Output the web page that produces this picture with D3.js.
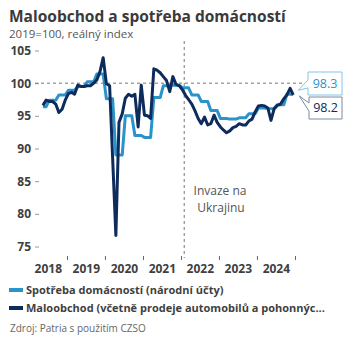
<!DOCTYPE html>
<html>
<head>
<meta charset="utf-8">
<script src="https://cdn.jsdelivr.net/npm/d3@7"></script>
<style>
body { margin: 0; background: #fff; }
text { font-family: "Open Sans", sans-serif; }
</style>
</head>
<body>
<svg id="chart" width="350" height="350"></svg>
<script>
// monthly values, May 2018 .. Dec 2024
var firstMonth = new Date(2018, 4, 15);

// Maloobchod (retail incl. cars and fuel), 2019=100
var retail = [
    96.6, 97.4, 97.2, 97.2, 96.8, 95.5, 96.0, 97.4,
    98.4, 98.6, 98.3, 99.7, 99.5, 99.5, 99.6, 99.6, 100.0, 100.5, 101.8, 103.9,
    99.9, 99.6, 88.5, 76.7, 94.0, 95.3, 97.7, 98.3, 98.0, 98.3, 93.3, 99.7,
    95.1, 95.0, 94.6, 102.2, 102.0, 101.6, 101.0, 100.4, 98.7, 101.0, 99.8, 99.6,
    99.0, 98.1, 97.5, 96.8, 95.8, 94.6, 93.8, 94.8, 93.6, 93.8, 95.1, 94.0,
    93.3, 92.8, 92.4, 92.7, 93.2, 93.4, 93.8, 93.6, 93.6, 94.2, 94.5, 95.6,
    96.5, 96.6, 96.5, 96.2, 94.3, 96.1, 96.6, 96.8, 97.6, 98.2, 99.2, 98.2
];

// Spotřeba domácností (quarterly national accounts, shown per month)
var consumption = [
    96.4, 96.4, 97.4, 97.4, 97.4, 98.2, 98.2, 98.2,
    98.9, 98.9, 98.9, 99.5, 99.5, 99.5, 100.2, 100.2, 100.2, 101.4, 101.4, 101.4,
    97.6, 97.6, 97.6, 89.0, 89.0, 89.0, 95.0, 95.0, 95.0, 92.0, 92.0, 92.0,
    91.7, 91.7, 91.7, 97.8, 97.8, 97.8, 99.6, 99.6, 99.6, 99.7, 99.7, 99.7,
    99.3, 99.3, 99.3, 98.2, 98.2, 98.2, 97.2, 97.2, 97.2, 95.8, 95.8, 95.8,
    94.6, 94.6, 94.6, 94.5, 94.5, 94.5, 94.7, 94.7, 94.7, 95.3, 95.3, 95.3,
    96.2, 96.2, 96.2, 96.1, 96.1, 96.1, 96.7, 96.7, 96.7, 98.3, 98.3, 98.3
];

var yTicks = [75, 80, 85, 90, 95, 100, 105];
var years = [2018, 2019, 2020, 2021, 2022, 2023, 2024];
var invasionDate = new Date(2022, 1, 1);

var colConsumption = "#2a93c9";
var colRetail = "#0d2b5c";

var svg = d3.select("#chart");
svg.append("rect").attr("width", 350).attr("height", 350).attr("fill", "#fff");

// title
svg.append("text")
    .attr("x", 9).attr("y", 22)
    .attr("font-size", 15.5).attr("font-weight", "bold").attr("fill", "#3a3a3a")
    .text("Maloobchod a spotřeba domácností");
svg.append("text")
    .attr("x", 9).attr("y", 38)
    .attr("font-size", 11.5).attr("fill", "#555")
    .text("2019=100, reálný index");

// scales
var x = d3.scaleTime()
    .domain([new Date(2018, 0, 1), new Date(2025, 0, 1)])
    .range([29, 295]);
var y = d3.scaleLinear()
    .domain([75, 105])
    .range([246.5, 50.5]);

var dates = retail.map(function (d, i) {
    return d3.timeMonth.offset(firstMonth, i);
});

// y axis
var yAxis = svg.append("g")
    .attr("transform", "translate(39,0)")
    .call(d3.axisLeft(y).tickValues(yTicks).tickSize(4).tickPadding(4));
yAxis.select(".domain").remove();
yAxis.selectAll(".tick line").attr("stroke", "#999");
yAxis.selectAll(".tick text")
    .attr("font-family", "Open Sans, sans-serif")
    .attr("font-size", 12).attr("font-weight", "bold").attr("fill", "#3f3f3f");

// x axis: year boundary ticks + centred labels
var xTicks = svg.append("g")
    .attr("transform", "translate(0,256)")
    .call(d3.axisBottom(x)
        .tickValues(years.map(function (d) { return new Date(d + 1, 0, 1); }))
        .tickSize(4).tickFormat(""));
xTicks.select(".domain").remove();
xTicks.selectAll(".tick line").attr("stroke", "#666");

var xLabels = svg.append("g")
    .attr("transform", "translate(0,256)")
    .call(d3.axisBottom(x)
        .tickValues(years.map(function (d) { return new Date(d, 6, 1); }))
        .tickSize(0).tickPadding(8)
        .tickFormat(d3.timeFormat("%Y")));
xLabels.select(".domain").remove();
xLabels.selectAll(".tick text")
    .attr("font-family", "Open Sans, sans-serif")
    .attr("font-size", 12).attr("font-weight", "bold").attr("fill", "#3f3f3f");

// reference lines
svg.append("line")
    .attr("x1", 35).attr("x2", 303)
    .attr("y1", y(100)).attr("y2", y(100))
    .attr("stroke", "#777").attr("stroke-width", 1).attr("stroke-dasharray", "3,3");
svg.append("line")
    .attr("x1", x(invasionDate)).attr("x2", x(invasionDate))
    .attr("y1", 41).attr("y2", 258)
    .attr("stroke", "#777").attr("stroke-width", 1).attr("stroke-dasharray", "3,3");

var note = svg.append("text")
    .attr("text-anchor", "middle")
    .attr("font-size", 12).attr("fill", "#555");
note.append("tspan").attr("x", 220).attr("y", 195).text("Invaze na");
note.append("tspan").attr("x", 221).attr("y", 212).text("Ukrajinu");

// lines
var line = d3.line()
    .x(function (d, i) { return x(dates[i]); })
    .y(function (d) { return y(d); });

svg.append("path")
    .datum(consumption)
    .attr("fill", "none").attr("stroke", colConsumption)
    .attr("stroke-width", 3).attr("stroke-linejoin", "round")
    .attr("d", line);
svg.append("path")
    .datum(retail)
    .attr("fill", "none").attr("stroke", colRetail)
    .attr("stroke-width", 3).attr("stroke-linejoin", "round")
    .attr("d", line);

// end-value callouts
function callout(tip, bx, by, w, h, p1, p2, stroke, color, label) {
    svg.append("path")
        .attr("d", "M" + tip[0] + "," + tip[1] +
            "L" + bx + "," + p1 + "L" + bx + "," + by +
            "L" + (bx + w) + "," + by + "L" + (bx + w) + "," + (by + h) +
            "L" + bx + "," + (by + h) + "L" + bx + "," + p2 + "Z")
        .attr("fill", "#fff").attr("stroke", stroke).attr("stroke-width", 1);
    svg.append("text")
        .attr("x", bx + w / 2).attr("y", by + h / 2)
        .attr("dy", "0.35em").attr("text-anchor", "middle")
        .attr("font-size", 12.5).attr("fill", color)
        .text(label);
}
var lastDate = dates[dates.length - 1];
var lastC = consumption[consumption.length - 1];
var lastR = retail[retail.length - 1];
callout([x(lastDate) + 5, y(lastC) - 4], 308, 72, 34, 23, 80, 88,
    "#86c4e6", colConsumption, d3.format(".1f")(lastC));
callout([x(lastDate) + 6, y(lastR) + 1], 309, 97, 33, 22, 103, 111,
    "#7a8aa6", colRetail, d3.format(".1f")(lastR));

// legend
var legend = [
    { name: "Spotřeba domácností (národní účty)", color: colConsumption },
    { name: "Maloobchod (včetně prodeje automobilů a pohonnýc...", color: colRetail }
];
var lg = svg.selectAll(".legend")
    .data(legend).enter()
    .append("g")
    .attr("class", "legend")
    .attr("transform", function (d, i) { return "translate(0," + (290 + i * 18) + ")"; });
lg.append("rect")
    .attr("x", 9).attr("y", -2).attr("width", 14).attr("height", 4)
    .attr("fill", function (d) { return d.color; });
lg.append("text")
    .attr("x", 26).attr("dy", "0.35em")
    .attr("font-size", 11).attr("font-weight", "bold").attr("fill", "#3f3f3f")
    .text(function (d) { return d.name; });

svg.append("text")
    .attr("x", 10).attr("y", 332)
    .attr("font-size", 10).attr("fill", "#666")
    .text("Zdroj: Patria s použitím CZSO");
</script>
</body>
</html>
